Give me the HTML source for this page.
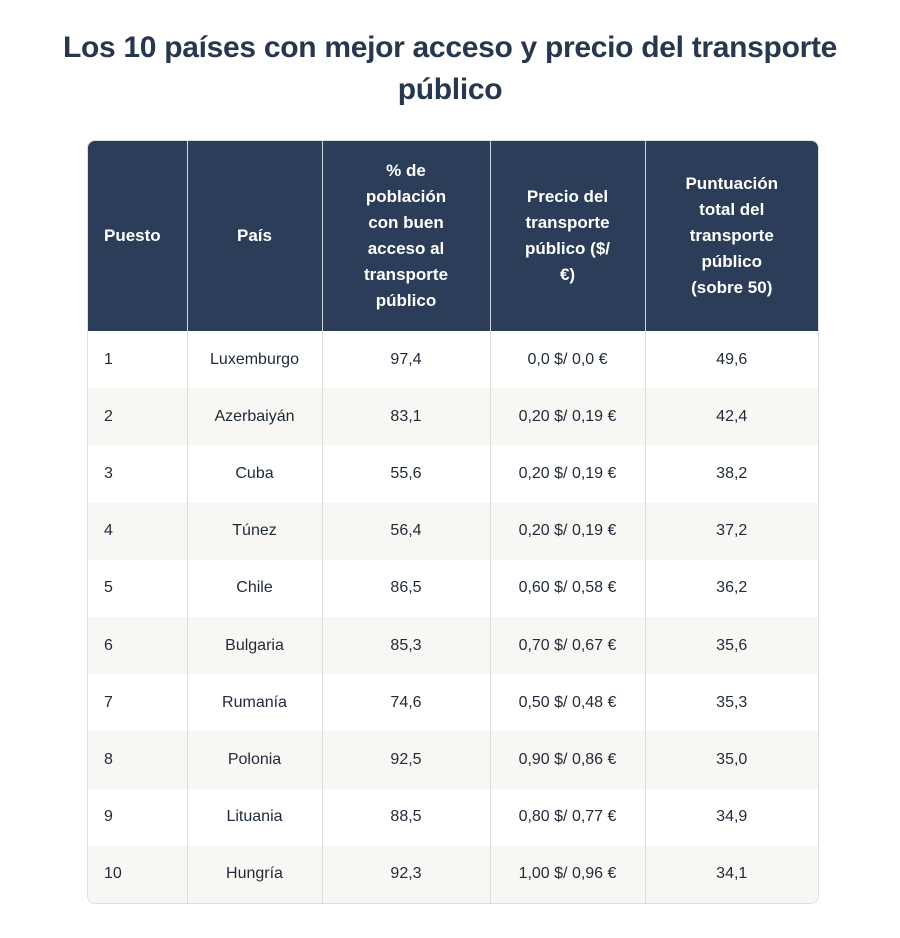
<!DOCTYPE html>
<html><head><meta charset="utf-8"><style>
body{margin:0;width:900px;height:938px;background:#fff;font-family:"Liberation Sans",sans-serif;color:#1f2a3a;}
h1{margin:0;position:absolute;top:27px;left:0;width:900px;text-align:center;font-size:30px;line-height:42px;color:#26374f;font-weight:bold;letter-spacing:-0.3px}
.t{position:absolute;left:87px;top:140px;width:730px;border:1px solid #ddd;border-radius:8px;overflow:hidden}
table{border-collapse:collapse;width:730px;table-layout:fixed}
th{background:#2b3d58;color:#fff;font-size:17px;line-height:26px;height:190px;padding:0 4px;border-right:1px solid #cfd5de;font-weight:bold;white-space:nowrap}
th:first-child{text-align:left;padding-left:16px}
td{height:57.2px;padding:0;font-size:16px;text-align:center;border-right:1px solid #ddd}
td:first-child{text-align:left;padding-left:16px}
th:last-child,td:last-child{border-right:none}
tr:nth-child(even) td{background:#f8f7f3}
</style></head><body>
<h1>Los 10 países con mejor acceso y precio del transporte<br>público</h1>
<div class="t"><table>
<colgroup><col style="width:99px"><col style="width:135px"><col style="width:168px"><col style="width:155px"><col style="width:173px"></colgroup>
<thead><tr><th>Puesto</th><th>País</th><th>% de<br>población<br>con buen<br>acceso al<br>transporte<br>público</th><th>Precio del<br>transporte<br>público ($/<br>€)</th><th>Puntuación<br>total del<br>transporte<br>público<br>(sobre 50)</th></tr></thead>
<tbody>
<tr><td>1</td><td>Luxemburgo</td><td>97,4</td><td>0,0 $/ 0,0 €</td><td>49,6</td></tr>
<tr><td>2</td><td>Azerbaiyán</td><td>83,1</td><td>0,20 $/ 0,19 €</td><td>42,4</td></tr>
<tr><td>3</td><td>Cuba</td><td>55,6</td><td>0,20 $/ 0,19 €</td><td>38,2</td></tr>
<tr><td>4</td><td>Túnez</td><td>56,4</td><td>0,20 $/ 0,19 €</td><td>37,2</td></tr>
<tr><td>5</td><td>Chile</td><td>86,5</td><td>0,60 $/ 0,58 €</td><td>36,2</td></tr>
<tr><td>6</td><td>Bulgaria</td><td>85,3</td><td>0,70 $/ 0,67 €</td><td>35,6</td></tr>
<tr><td>7</td><td>Rumanía</td><td>74,6</td><td>0,50 $/ 0,48 €</td><td>35,3</td></tr>
<tr><td>8</td><td>Polonia</td><td>92,5</td><td>0,90 $/ 0,86 €</td><td>35,0</td></tr>
<tr><td>9</td><td>Lituania</td><td>88,5</td><td>0,80 $/ 0,77 €</td><td>34,9</td></tr>
<tr><td>10</td><td>Hungría</td><td>92,3</td><td>1,00 $/ 0,96 €</td><td>34,1</td></tr>
</tbody></table></div>
</body></html>
